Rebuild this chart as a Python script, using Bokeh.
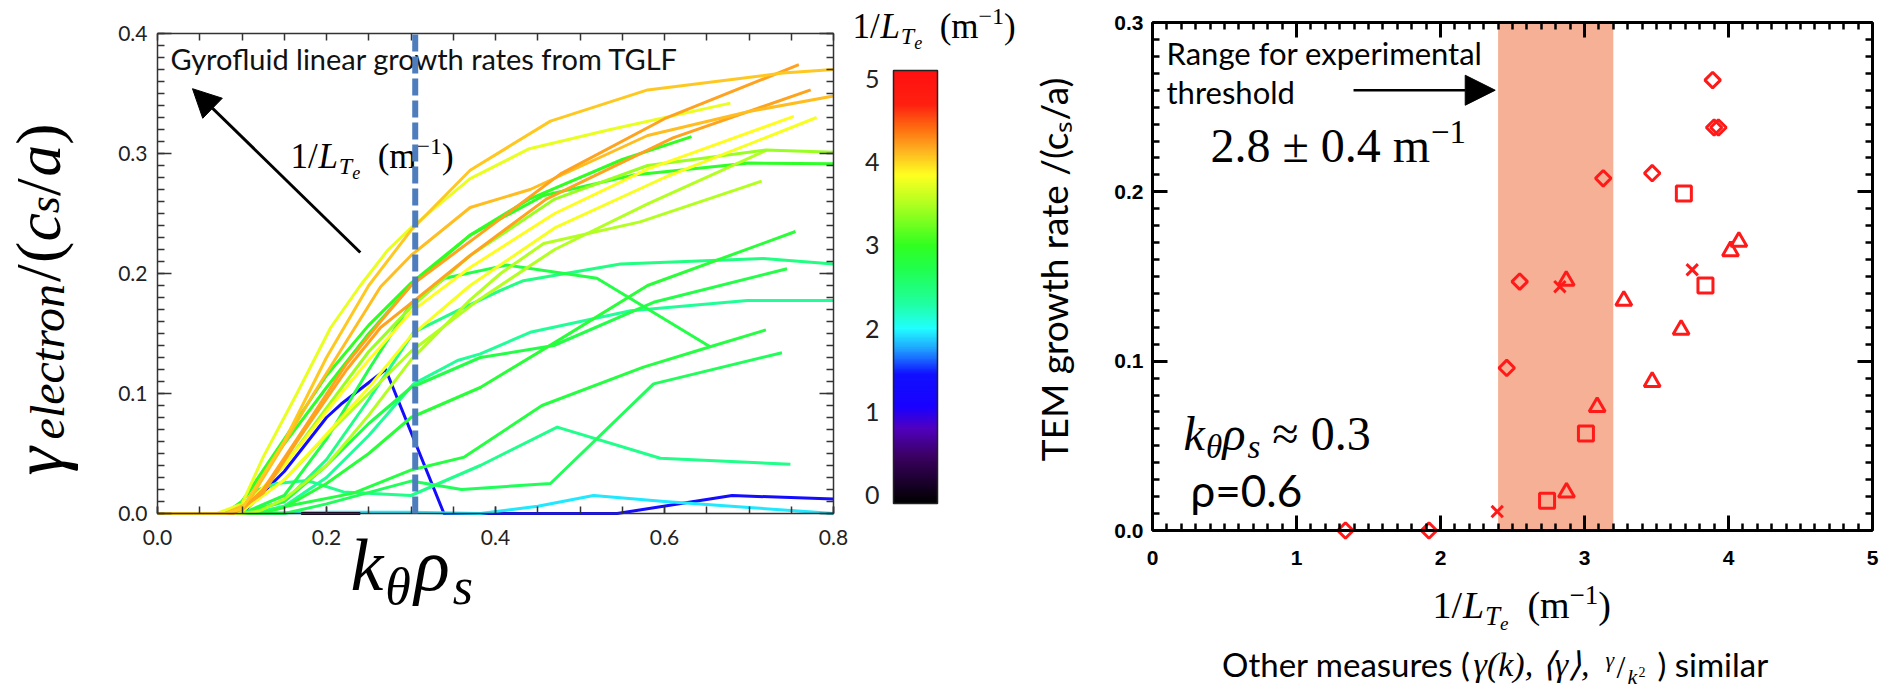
import math
import numpy as np
from bokeh.plotting import figure
from bokeh.models import (Range1d, LinearAxis, FixedTicker, Label, Arrow, NormalHead,
                          ColumnDataSource, LinearColorMapper, BoxAnnotation,
                          CustomJSTickFormatter, PrintfTickFormatter)
from bokeh.transform import linear_cmap
from bokeh.layouts import row
from bokeh.embed import file_html
from bokeh.resources import INLINE

# ---------------- data: left panel, TGLF growth-rate spectra (one case per array) -------------
case_lte = [1.35, 1.95, 0.10, 2.40, 2.65, 2.80, 2.35, 2.45, 2.75, 2.75, 2.85,
            3.50, 2.95, 3.50, 3.40, 3.00, 3.80, 3.85, 3.75, 4.20, 4.10, 4.20, 4.05]
k_V = [0, 0.1, 0.15, 0.2, 0.217, 0.27, 0.339, 0.45, 0.544, 0.68, 0.8]
g_V = [0, 0, 0.035, 0.08, 0.091, 0.12, 0.0, 0.0, 0.0, 0.015, 0.012]
k_U = [0.1, 0.2, 0.3, 0.382, 0.45, 0.516, 0.6, 0.7, 0.8]
g_U = [0, 0.001, 0.001, 0.0, 0.006, 0.015, 0.01, 0.005, 0.0]
k_W = [0.17, 0.24]
g_W = [0.0, 0.0]
k_S = [0, 0.1, 0.12, 0.141, 0.177, 0.22, 0.3, 0.382, 0.473, 0.595, 0.749]
g_S = [0, 0, 0.02, 0.025, 0.0275, 0.018, 0.015, 0.04, 0.072, 0.046, 0.041]
k_T = [0, 0.15, 0.2, 0.3, 0.36, 0.465, 0.587, 0.739]
g_T = [0, 0, 0.008, 0.027, 0.02, 0.025, 0.108, 0.134]
k_R = [0, 0.12, 0.145, 0.232, 0.299, 0.363, 0.455, 0.575, 0.654, 0.72]
g_R = [0, 0, 0.005, 0.017, 0.036, 0.047, 0.09, 0.122, 0.139, 0.153]
k_P = [0, 0.11, 0.15, 0.2, 0.25, 0.303, 0.355, 0.382, 0.441, 0.56, 0.698, 0.8]
g_P = [0, 0, 0.006, 0.03, 0.065, 0.108, 0.1275, 0.133, 0.151, 0.169, 0.1775, 0.1775]
k_O = [0, 0.1, 0.15, 0.2, 0.25, 0.303, 0.355, 0.406, 0.433, 0.548, 0.717, 0.8]
g_O = [0, 0, 0.01, 0.045, 0.095, 0.151, 0.169, 0.186, 0.194, 0.208, 0.2125, 0.208]
k_Q = [0, 0.1, 0.15, 0.2, 0.25, 0.3, 0.382, 0.469, 0.587, 0.745]
g_Q = [0, 0, 0.01, 0.04, 0.075, 0.105, 0.13, 0.14, 0.176, 0.204]
k_N = [0, 0.1, 0.15, 0.2, 0.25, 0.3, 0.34, 0.413, 0.52, 0.654]
g_N = [0, 0, 0.015, 0.062, 0.12, 0.175, 0.196, 0.207, 0.196, 0.139]
k_M = [0, 0.12, 0.15, 0.2, 0.25, 0.3, 0.382, 0.469, 0.58, 0.755]
g_M = [0, 0, 0.005, 0.025, 0.05, 0.08, 0.105, 0.142, 0.19, 0.235]
k_L = [0, 0.1, 0.12, 0.15, 0.2, 0.25, 0.3, 0.37, 0.406, 0.457, 0.571, 0.715]
g_L = [0, 0, 0.002, 0.012, 0.04, 0.082, 0.128, 0.178, 0.2, 0.225, 0.243, 0.277]
k_K = [0, 0.08, 0.1, 0.15, 0.2, 0.25, 0.3, 0.37, 0.457, 0.563, 0.7, 0.8]
g_K = [0, 0, 0.01, 0.058, 0.105, 0.15, 0.19, 0.232, 0.265, 0.282, 0.292, 0.2915]
k_J = [0, 0.09, 0.1, 0.15, 0.2, 0.25, 0.3, 0.38, 0.47, 0.58, 0.72]
g_J = [0, 0, 0.002, 0.028, 0.065, 0.1, 0.135, 0.178, 0.22, 0.258, 0.3025]
k_I = [0, 0.09, 0.1, 0.15, 0.2, 0.25, 0.3, 0.37, 0.47, 0.58, 0.72, 0.8]
g_I = [0, 0, 0.003, 0.04, 0.088, 0.135, 0.172, 0.215, 0.262, 0.29, 0.303, 0.301]
k_H = [0, 0.08, 0.1, 0.15, 0.2, 0.25, 0.3, 0.37, 0.44, 0.55, 0.632]
g_H = [0, 0, 0.01, 0.062, 0.115, 0.157, 0.192, 0.232, 0.262, 0.295, 0.314]
k_G = [0, 0.09, 0.1, 0.15, 0.2, 0.25, 0.3, 0.37, 0.47, 0.6, 0.78]
g_G = [0, 0, 0.002, 0.028, 0.066, 0.105, 0.148, 0.19, 0.238, 0.28, 0.33]
k_F = [0, 0.08, 0.1, 0.15, 0.2, 0.25, 0.3, 0.37, 0.47, 0.58, 0.753]
g_F = [0, 0, 0.003, 0.04, 0.085, 0.128, 0.168, 0.205, 0.25, 0.287, 0.331]
k_E = [0, 0.07, 0.1, 0.125, 0.165, 0.205, 0.24, 0.272, 0.3, 0.37, 0.44, 0.536, 0.678]
g_E = [0, 0, 0.008, 0.047, 0.1, 0.155, 0.19, 0.219, 0.238, 0.279, 0.304, 0.32, 0.342]
k_D = [0, 0.09, 0.125, 0.165, 0.224, 0.264, 0.305, 0.37, 0.46, 0.61, 0.773]
g_D = [0, 0, 0.017, 0.06, 0.12, 0.155, 0.178, 0.215, 0.262, 0.313, 0.353]
k_C = [0, 0.08, 0.106, 0.145, 0.185, 0.224, 0.264, 0.3, 0.37, 0.441, 0.58, 0.7, 0.8]
g_C = [0, 0, 0.008, 0.0525, 0.1, 0.144, 0.189, 0.215, 0.255, 0.27, 0.315, 0.335, 0.348]
k_B = [0, 0.08, 0.1, 0.125, 0.165, 0.224, 0.264, 0.3, 0.382, 0.477, 0.6, 0.759]
g_B = [0, 0, 0.003, 0.02, 0.062, 0.125, 0.16, 0.19, 0.233, 0.283, 0.329, 0.374]
k_A = [0, 0.08, 0.1, 0.15, 0.2, 0.25, 0.3, 0.37, 0.465, 0.58, 0.74, 0.8]
g_A = [0, 0, 0.004, 0.06, 0.13, 0.19, 0.236, 0.286, 0.327, 0.353, 0.367, 0.37]

k_cases = [k_V, k_U, k_W, k_S, k_T, k_R, k_P, k_O, k_Q, k_N, k_M,
           k_L, k_K, k_J, k_I, k_H, k_G, k_F, k_E, k_D, k_C, k_B, k_A]
g_cases = [g_V, g_U, g_W, g_S, g_T, g_R, g_P, g_O, g_Q, g_N, g_M,
           g_L, g_K, g_J, g_I, g_H, g_G, g_F, g_E, g_D, g_C, g_B, g_A]
k_marker = 0.305          # dashed line position (k_theta rho_s ~ 0.3)
cb_ticks = [0, 1, 2, 3, 4, 5]

# ---------------- data: right panel, TEM growth rate vs 1/L_Te ----------------
dia_x = [1.34, 1.92, 2.46, 2.55, 3.13, 3.47, 3.89, 3.90, 3.93]
dia_y = [0.0, 0.0, 0.096, 0.147, 0.208, 0.211, 0.266, 0.238, 0.238]
sq_x = [2.74, 3.01, 3.69, 3.84]
sq_y = [0.0176, 0.0573, 0.199, 0.1447]
tri_x = [2.875, 2.873, 3.088, 3.273, 3.47, 3.671, 4.014, 4.072]
tri_y = [0.0225, 0.1475, 0.073, 0.1357, 0.0878, 0.1186, 0.165, 0.1706]
x_x = [2.394, 2.829, 3.748]
x_y = [0.0112, 0.144, 0.154]
threshold_center = 2.8
threshold_err = 0.4

# ---------------- colour map ----------------
CB_LOW, CB_HIGH = -0.1, 5.1
CB_STOPS = [-0.1, 0.45, 0.8, 1.05, 1.45, 1.75, 2.0, 2.3, 2.7, 3.0, 3.5, 3.85, 4.15, 4.4, 4.7, 5.1]
CB_COLS = ['#000000', '#3a0060', '#5000c0', '#1a00ff', '#1010ff', '#20a0ff', '#20ffff', '#20ffa0',
           '#20ff50', '#30ff20', '#b0ff20', '#ffff20', '#ffb020', '#ff7010', '#ff2010', '#ff1010']


def hex2rgb(h):
    return tuple(int(h[i:i + 2], 16) for i in (1, 3, 5))


def build_palette(n=256):
    out = []
    for i in range(n):
        v = CB_LOW + (CB_HIGH - CB_LOW) * i / (n - 1)
        j = 0
        while j < len(CB_STOPS) - 2 and v > CB_STOPS[j + 1]:
            j += 1
        t = (v - CB_STOPS[j]) / (CB_STOPS[j + 1] - CB_STOPS[j])
        t = min(max(t, 0.0), 1.0)
        a, b = hex2rgb(CB_COLS[j]), hex2rgb(CB_COLS[j + 1])
        c = [int(round(a[q] + (b[q] - a[q]) * t)) for q in range(3)]
        out.append('#%02x%02x%02x' % tuple(c))
    return out


PALETTE = build_palette()

# ---------------- layout (page pixels; bokeh's page has no body margin) ----------------
PAGE_TOP, PAGE_BOTTOM = 0, 692
H = PAGE_BOTTOM - PAGE_TOP
X1, X2, X3, X4 = 0, 850, 1030, 1892          # figure edges on the page


def span_range(d0, d1, p0, p1, c0, c1):
    s = (d1 - d0) / (p1 - p0)
    return d0 + (c0 - p0) * s, d0 + (c1 - p0) * s


def cx(page_x, left):      # canvas-relative x
    return page_x - left


def cy(page_y):            # canvas-relative y (upwards)
    return PAGE_BOTTOM - page_y


# ---------------- text helpers ----------------
NB = "\u00a0"
SERIF_W = {'0': .5, '1': .5, '2': .5, '3': .5, '4': .5, '5': .5, '6': .5, '7': .5, '8': .5, '9': .5,
           '.': .25, ' ': .25, NB: .25, '/': .3, '(': .333, ')': .333, 'm': .778, '−': .564,
           '±': .564, '≈': .549, '=': .564, 'L': .58, 'T': .556, 'e': .444, 'k': .47, 'c': .444,
           's': .389, 'a': .5, 'l': .278, 't': .278, 'r': .389, 'o': .5, 'n': .5, 'γ': .46,
           'θ': .5, 'ρ': .52}
SERIF = "Liberation Serif"
SANS = "Lato"
COMP = {SERIF: 0.32, SANS: 0.35}     # baseline correction (fraction of font size)


def lab(fig, left, page_x, page_y, text, size, font=SANS, style="normal", align="left", color="black"):
    fig.add_layout(Label(x=cx(page_x, left), y=cy(page_y) + COMP[font] * size, x_units="screen",
                         y_units="screen", text=text, text_font=font, text_font_size=f"{size}px",
                         text_font_style=style, text_align=align, text_baseline="alphabetic",
                         text_color=color))


def rich(fig, x, y, pieces, angle=0.0, baseline="alphabetic"):
    adv = 0.0
    ca, sa = math.cos(angle), math.sin(angle)
    for piece in pieces:
        txt, size, style, dy = piece[:4]
        extra = piece[4] if len(piece) > 4 else 0.0
        d = dy + (COMP[SERIF] * size if baseline == "alphabetic" else 0.0)
        sx = x + adv * ca - d * sa
        sy = y + adv * sa + d * ca
        fig.add_layout(Label(x=sx, y=sy, x_units="screen", y_units="screen", text=txt,
                             text_font=SERIF, text_font_size=f"{size}px", text_font_style=style,
                             angle=angle, text_baseline=baseline, text_align="left",
                             text_color="black"))
        adv += sum(SERIF_W.get(ch, 0.5) for ch in txt) * size + extra


def lte_pieces(s):
    return [("1/", s, "normal", 0), ("L", s, "italic", 0), ("T", round(s * .7), "italic", -round(s * .18)),
            ("e", round(s * .5), "italic", -round(s * .32)), (NB + NB + "(m", s, "normal", 0),
            ("−1", round(s * .7), "normal", round(s * .38)), (")", s, "normal", 0)]


def no_labels():
    return CustomJSTickFormatter(code="return ''")


def new_fig(w, xr, yr):
    f = figure(width=w, height=H, x_range=Range1d(*xr), y_range=Range1d(*yr),
               x_axis_type=None, y_axis_type=None, output_backend="svg", toolbar_location=None,
               min_border=0, min_border_left=0, min_border_right=0, min_border_top=0,
               min_border_bottom=0)
    f.outline_line_color = None
    f.background_fill_color = "white"
    f.border_fill_color = "white"
    f.xgrid.visible = False
    f.ygrid.visible = False
    return f


# ======================= left panel =======================
p1 = new_fig(X2 - X1, span_range(0, 0.8, 157, 833, X1, X2), span_range(0, 0.4, 513, 33, PAGE_BOTTOM, PAGE_TOP))

k_ticks_major = [0.0, 0.2, 0.4, 0.6, 0.8]
k_ticks_minor = [round(0.05 * i, 2) for i in range(17)]
g_ticks_major = [0.0, 0.1, 0.2, 0.3, 0.4]
g_ticks_minor = [round(0.01 * i, 2) for i in range(41)]

ax_b = LinearAxis(ticker=FixedTicker(ticks=k_ticks_major, minor_ticks=k_ticks_minor),
                  formatter=PrintfTickFormatter(format="%.1f"), fixed_location=0.0, bounds=(0, 0.8))
ax_l = LinearAxis(ticker=FixedTicker(ticks=g_ticks_major, minor_ticks=g_ticks_minor),
                  formatter=PrintfTickFormatter(format="%.1f"), fixed_location=0.0, bounds=(0, 0.4))
ax_t = LinearAxis(ticker=FixedTicker(ticks=k_ticks_minor), formatter=no_labels(),
                  fixed_location=0.4, bounds=(0, 0.8))
ax_r = LinearAxis(ticker=FixedTicker(ticks=g_ticks_major, minor_ticks=g_ticks_minor), formatter=no_labels(),
                  fixed_location=0.8, bounds=(0, 0.4))
for ax in (ax_b, ax_l, ax_t, ax_r):
    ax.axis_line_color = "#333333"
    ax.axis_line_width = 1.5
    ax.major_tick_line_color = "#333333"
    ax.minor_tick_line_color = "#333333"
    ax.major_tick_line_width = 1.5
    ax.minor_tick_line_width = 1.5
    ax.major_tick_out = 0
    ax.minor_tick_out = 0
    ax.major_label_text_font = SANS
    ax.major_label_text_font_size = "21px"
    ax.major_label_text_color = "#222222"
ax_b.major_tick_in = 7
ax_b.minor_tick_in = 7
ax_b.major_label_standoff = 16
ax_t.major_tick_in = 7
ax_l.major_tick_in = 14
ax_l.minor_tick_in = 7
ax_l.major_label_standoff = 10
ax_r.major_tick_in = 14
ax_r.minor_tick_in = 7
p1.add_layout(ax_b, "below")
p1.add_layout(ax_l, "left")
p1.add_layout(ax_t, "above")
p1.add_layout(ax_r, "right")

src1 = ColumnDataSource(dict(xs=k_cases, ys=g_cases, lte=case_lte))
p1.multi_line("xs", "ys", source=src1, line_width=3, line_join="round",
              line_color=linear_cmap("lte", PALETTE, CB_LOW, CB_HIGH))

p1.add_layout(Arrow(end=NormalHead(size=28, fill_color="black", line_color="black"),
                    x_start=0.240, y_start=0.2175, x_end=0.0414, y_end=0.354,
                    line_width=3, line_color="black"))
lab(p1, X1, 170, 68, "Gyrofluid linear growth rates from TGLF", 29, color="#111111")
rich(p1, cx(290, X1), cy(167), lte_pieces(35))
p1.segment(x0=[k_marker], y0=[0.0], x1=[k_marker], y1=[0.4], line_color="#4d7dbc",
           line_width=6, line_dash="17 5", level="overlay")
# y label: gamma_electron / (c_s / a)   (rotated; centred on its mid line)
rich(p1, cx(38, X1), cy(475), [("γ", 72, "italic", 0, 3), ("electron", 48, "italic", -9),
                               ("/", 64, "normal", 0), ("(", 64, "normal", 0), ("c", 64, "italic", 0),
                               ("s", 44, "italic", -6), ("/", 64, "normal", 0), ("a", 64, "italic", 0),
                               (")", 64, "normal", 0)],
     angle=math.pi / 2, baseline="middle")
# x label: k_theta rho_s
rich(p1, cx(350, X1), cy(588), [("k", 74, "italic", 0), ("θ", 52, "italic", -15, 3),
                                ("ρ", 74, "italic", 0), ("s", 52, "italic", -15)])

# ======================= colour bar =======================
pcb = new_fig(X3 - X2, span_range(0, 1, 893, 937, X2, X3), span_range(CB_LOW, CB_HIGH, 503, 70, PAGE_BOTTOM, PAGE_TOP))
mapper = LinearColorMapper(palette=PALETTE, low=CB_LOW, high=CB_HIGH)
grad = np.linspace(CB_LOW, CB_HIGH, 256).reshape(256, 1)
pcb.image(image=[grad], x=0, y=CB_LOW, dw=1, dh=CB_HIGH - CB_LOW, color_mapper=mapper)
pcb.quad(left=[0], right=[1], bottom=[CB_LOW], top=[CB_HIGH], fill_color=None,
         line_color="#222222", line_width=1.5)
ax_cb = LinearAxis(ticker=FixedTicker(ticks=cb_ticks), fixed_location=0, bounds=(CB_LOW, CB_HIGH))
ax_cb.axis_line_color = None
ax_cb.major_tick_line_color = None
ax_cb.minor_tick_line_color = None
ax_cb.major_label_standoff = 8
ax_cb.major_label_text_font = SANS
ax_cb.major_label_text_font_size = "25px"
ax_cb.major_label_text_color = "#222222"
pcb.add_layout(ax_cb, "left")
rich(pcb, cx(852, X2), cy(37), lte_pieces(35))

# ======================= right panel =======================
p2 = new_fig(X4 - X3, span_range(0, 5, 1152, 1872, X3, X4), span_range(0, 0.3, 530, 22, PAGE_BOTTOM, PAGE_TOP))

x_major = [0, 1, 2, 3, 4, 5]
x_minor = [round(0.1 * i, 1) for i in range(51)]
y_major = [0.0, 0.1, 0.2, 0.3]
y_minor = [round(0.01 * i, 2) for i in range(31)]
bx = LinearAxis(ticker=FixedTicker(ticks=x_major, minor_ticks=x_minor), fixed_location=0.0, bounds=(0, 5))
lx = LinearAxis(ticker=FixedTicker(ticks=y_major, minor_ticks=y_minor),
                formatter=PrintfTickFormatter(format="%.1f"), fixed_location=0.0, bounds=(0, 0.3))
tx = LinearAxis(ticker=FixedTicker(ticks=x_major, minor_ticks=x_minor), formatter=no_labels(),
                fixed_location=0.3, bounds=(0, 5))
rx = LinearAxis(ticker=FixedTicker(ticks=y_major, minor_ticks=y_minor), formatter=no_labels(),
                fixed_location=5.0, bounds=(0, 0.3))
for ax in (bx, lx, tx, rx):
    ax.axis_line_color = "black"
    ax.axis_line_width = 3
    ax.major_tick_line_color = "black"
    ax.minor_tick_line_color = "black"
    ax.major_tick_line_width = 3
    ax.minor_tick_line_width = 2.5
    ax.major_tick_out = 0
    ax.minor_tick_out = 0
    ax.major_tick_in = 15
    ax.minor_tick_in = 7
    ax.major_label_text_font = "Liberation Sans"
    ax.major_label_text_font_style = "bold"
    ax.major_label_text_font_size = "21px"
    ax.major_label_text_color = "black"
bx.major_label_standoff = 20
lx.major_label_standoff = 9
p2.add_layout(bx, "below")
p2.add_layout(lx, "left")
p2.add_layout(tx, "above")
p2.add_layout(rx, "right")

p2.add_layout(BoxAnnotation(left=threshold_center - threshold_err, right=threshold_center + threshold_err,
                            bottom=0.0, top=0.3, fill_color="#f5b096", fill_alpha=1.0,
                            line_color=None, level="underlay"))

RED = "#ff1a1a"
p2.scatter(dia_x, dia_y, marker="square", angle=math.pi / 4, size=11, fill_color=None,
           line_color=RED, line_width=3)
p2.scatter(sq_x, sq_y, marker="square", size=15, fill_color=None, line_color=RED, line_width=3)
p2.scatter(tri_x, tri_y, marker="triangle", size=16, fill_color=None, line_color=RED, line_width=3)
p2.scatter(x_x, x_y, marker="x", size=16, line_color=RED, line_width=3)

p2.add_layout(Arrow(end=NormalHead(size=30, fill_color="black", line_color="black"),
                    x_start=1.396, y_start=0.26, x_end=2.38, y_end=0.26,
                    line_width=2.5, line_color="black"))
lab(p2, X3, 1166, 63, "Range for experimental", 31)
lab(p2, X3, 1166, 102, "threshold", 31)
rich(p2, cx(1210, X3), cy(160), [("2.8 ± 0.4 m", 48, "normal", 0), ("−1", 33, "normal", 18)])
rich(p2, cx(1183, X3), cy(448), [("k", 48, "italic", 0), ("θ", 33, "italic", -9), ("ρ", 48, "italic", 0),
                                 ("s", 33, "italic", -9), (NB + "≈ 0.3", 48, "normal", 0)])
lab(p2, X3, 1190, 505, "ρ=0.6", 44)
p2.add_layout(Label(x=cx(1053, X3), y=cy(269), x_units="screen", y_units="screen",
                    text="TEM growth rate /(cₛ/a)", text_font=SANS, text_font_size="37px",
                    text_color="black", angle=math.pi / 2, text_align="center", text_baseline="middle"))
rich(p2, cx(1432, X3), cy(617), lte_pieces(38))
# caption
CAP = 675
lab(p2, X3, 1470, CAP, "Other measures (", 33, align="right")
lab(p2, X3, 1473, CAP, "γ(k), ⟨γ⟩,", 34, font=SERIF, style="italic")
lab(p2, X3, 1605, CAP - 9, "γ", 22, font=SERIF, style="italic")
lab(p2, X3, 1616, CAP + 2, "/", 32, font=SERIF)
lab(p2, X3, 1627, CAP + 8, "k", 22, font=SERIF, style="italic")
lab(p2, X3, 1638, CAP + 1, "2", 14, font=SERIF)
lab(p2, X3, 1657, CAP, ") similar", 33)

layout = row(p1, pcb, p2)
open("out.html", "w").write(file_html(layout, INLINE))
